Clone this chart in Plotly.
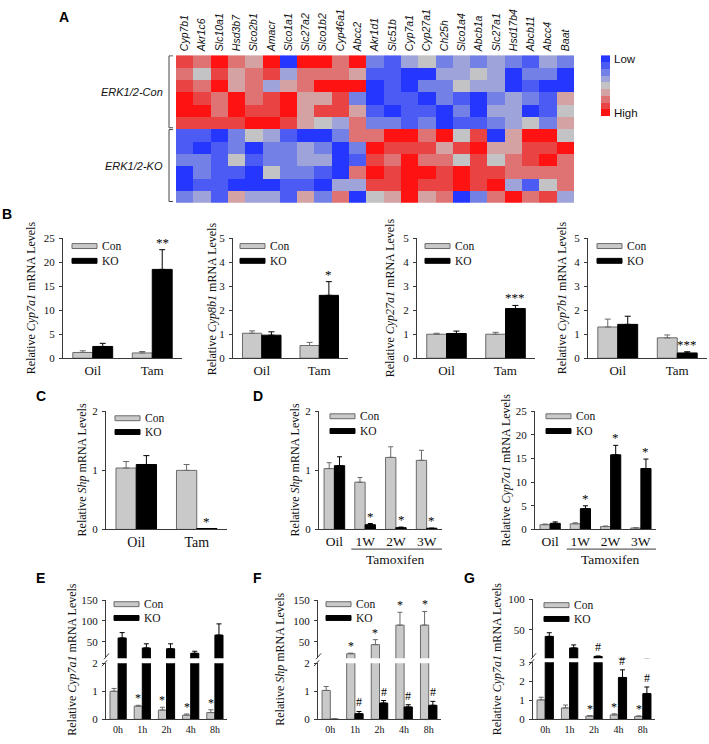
import plotly.graph_objects as go

W, H = 709, 744

# ---------------- data ----------------
GENES = ["Cyp7b1", "Akr1c6", "Slc10a1", "Hsd3b7", "Slco2b1", "Amacr", "Slco1a1",
         "Slc27a2", "Slco1b2", "Cyp46a1", "Abcc2", "Akr1d1", "Slc51b", "Cyp7a1",
         "Cyp27a1", "Ch25h", "Slco1a4", "Abcb1a", "Slc27a1", "Hsd17b4", "Abcb11",
         "Abcc4", "Baat"]
# expression level class: 1 = Low (blue) ... 5 = middle (grey) ... 9 = High (red)
HEAT_CON = [
    [8, 7, 9, 7, 6, 9, 1, 9, 9, 7, 9, 3, 2, 4, 5, 3, 4, 3, 4, 3, 2, 4, 3],
    [7, 5, 8, 6, 7, 8, 4, 7, 7, 7, 6, 2, 2, 1, 1, 4, 4, 5, 4, 1, 3, 3, 1],
    [8, 7, 9, 6, 7, 4, 6, 7, 9, 9, 9, 1, 2, 1, 3, 3, 5, 4, 4, 1, 2, 1, 1],
    [9, 8, 7, 9, 7, 8, 9, 6, 6, 8, 3, 1, 2, 2, 1, 3, 2, 1, 3, 4, 3, 2, 6],
    [9, 9, 7, 9, 8, 8, 9, 6, 8, 8, 6, 2, 1, 2, 2, 1, 3, 1, 4, 4, 1, 2, 5],
    [8, 8, 8, 8, 9, 9, 8, 6, 5, 4, 7, 3, 3, 2, 3, 1, 2, 2, 3, 4, 5, 3, 6],
]
HEAT_KO = [
    [2, 2, 1, 3, 5, 4, 2, 1, 1, 3, 7, 7, 9, 9, 7, 9, 5, 8, 1, 6, 9, 9, 5],
    [2, 1, 2, 3, 1, 3, 3, 4, 3, 1, 3, 9, 8, 8, 8, 6, 8, 9, 6, 6, 8, 8, 9],
    [3, 3, 2, 5, 2, 3, 3, 4, 4, 1, 2, 8, 7, 9, 7, 7, 5, 8, 5, 7, 8, 9, 7],
    [1, 3, 2, 2, 1, 5, 3, 3, 2, 1, 7, 9, 8, 9, 9, 8, 9, 8, 8, 7, 7, 7, 7],
    [1, 2, 2, 1, 1, 1, 2, 2, 1, 4, 4, 8, 8, 9, 8, 8, 9, 8, 9, 4, 2, 5, 7],
    [3, 4, 2, 6, 4, 4, 2, 6, 3, 7, 1, 5, 6, 9, 6, 7, 1, 3, 7, 9, 7, 8, 4],
]
HEAT_GROUPS = ["ERK1/2-Con", "ERK1/2-KO"]
LEVELS = [1, 2, 3, 4, 5, 6, 7, 8, 9]
LEVEL_COLORS = ["#2536ff", "#4b5bf4", "#7380e6", "#9ea4da", "#c3c3c6",
                "#d4a2a2", "#df7272", "#ea4343", "#ff1212"]
SCALE_LABELS = ["Low", "High"]

B_CATS = ["Oil", "Tam"]
CYP7A1_B_CON = [1.2, 1.1]
CYP7A1_B_CON_ERR = [0.35, 0.3]
CYP7A1_B_KO = [2.45, 18.5]
CYP7A1_B_KO_ERR = [0.65, 4.1]

CYP8B1_CON = [1.04, 0.53]
CYP8B1_CON_ERR = [0.1, 0.13]
CYP8B1_KO = [0.96, 2.62]
CYP8B1_KO_ERR = [0.14, 0.57]

CYP27A1_CON = [1.0, 1.0]
CYP27A1_CON_ERR = [0.04, 0.08]
CYP27A1_KO = [1.03, 2.07]
CYP27A1_KO_ERR = [0.1, 0.13]

CYP7B1_CON = [1.3, 0.85]
CYP7B1_CON_ERR = [0.33, 0.12]
CYP7B1_KO = [1.41, 0.22]
CYP7B1_KO_ERR = [0.34, 0.05]

SHP_C_CON = [1.04, 1.0]
SHP_C_CON_ERR = [0.11, 0.1]
SHP_C_KO = [1.1, 0.015]
SHP_C_KO_ERR = [0.15, None]

D_CATS = ["Oil", "1W", "2W", "3W"]
D_GROUP_LABEL = "Tamoxifen"
SHP_D_CON = [1.03, 0.8, 1.22, 1.17]
SHP_D_CON_ERR = [0.1, 0.08, 0.18, 0.17]
SHP_D_KO = [1.08, 0.08, 0.03, 0.02]
SHP_D_KO_ERR = [0.15, 0.02, 0.01, None]

CYP7A1_D_CON = [1.0, 1.2, 0.6, 0.3]
CYP7A1_D_CON_ERR = [0.15, 0.2, 0.12, 0.06]
CYP7A1_D_KO = [1.3, 4.4, 15.8, 12.9]
CYP7A1_D_KO_ERR = [0.3, 0.6, 2.0, 2.0]

T_CATS = ["0h", "1h", "2h", "4h", "8h"]
CYP7A1_E_CON = [1.0, 0.47, 0.33, 0.15, 0.24]
CYP7A1_E_CON_ERR = [0.1, 0.03, 0.1, 0.04, 0.1]
CYP7A1_E_KO = [59, 35, 33, 22, 66]
CYP7A1_E_KO_ERR = [13, 10, 12, 5, 27]

SHP_F_CON = [1.03, 21, 43, 90, 90]
SHP_F_CON_ERR = [0.14, 1.5, 12, 31, 33]
SHP_F_KO = [0.0, 0.2, 0.58, 0.44, 0.5]
SHP_F_KO_ERR = [None, 0.08, 0.09, 0.08, 0.14]

CYP7A1_G_CON = [1.02, 0.6, 0.17, 0.23, 0.15]
CYP7A1_G_CON_ERR = [0.14, 0.15, 0.03, 0.06, 0.03]
CYP7A1_G_KO = [39, 20, 6, 2.2, 1.35]
CYP7A1_G_KO_ERR = [6, 5, 0.8, 0.4, 0.35]

SERIES_NAMES = ["Con", "KO"]

# ---------------- helpers ----------------
def fx(px):
    return px / W


def fy(py):
    return 1 - py / H


SERIF = "Liberation Serif"
SANS = "Liberation Sans"
AX = "#3a3a3a"
TXT = "#111111"
CON_FILL = "#c9c9c9"
CON_EDGE = "#6a6a6a"
KO_FILL = "#000000"
BW = 0.335

fig = go.Figure()
layout = {}
shapes = []
annotations = []
_count = {"x": 0, "y": 0}


def new_axis(kind):
    _count[kind] += 1
    n = _count[kind]
    ref = kind if n == 1 else f"{kind}{n}"
    key = f"{kind}axis" if n == 1 else f"{kind}axis{n}"
    return ref, key


def err_cfg(errs, color, capw):
    return dict(type="data", symmetric=False, array=errs,
                arrayminus=[0 if e is not None else None for e in errs],
                color=color, thickness=1, width=capw, visible=True)


def add_bars(xr, yr, cats, con, con_err, ko, ko_err, capw):
    fig.add_trace(go.Bar(x=cats, y=con, xaxis=xr, yaxis=yr, width=BW, offset=-BW,
                         marker=dict(color=CON_FILL, line=dict(color=CON_EDGE, width=1)),
                         error_y=err_cfg(con_err, CON_EDGE, capw),
                         name=SERIES_NAMES[0], showlegend=False, hoverinfo="skip"))
    fig.add_trace(go.Bar(x=cats, y=ko, xaxis=xr, yaxis=yr, width=BW, offset=0,
                         marker=dict(color=KO_FILL, line=dict(color=KO_FILL, width=1)),
                         error_y=err_cfg(ko_err, KO_FILL, capw),
                         name=SERIES_NAMES[1], showlegend=False, hoverinfo="skip"))


def xcfg(n, x0, x1, anchor, size, standoff):
    return dict(domain=[fx(x0), fx(x1)], type="category", range=[-0.5, n - 0.5],
                showline=True, linecolor=AX, linewidth=1, ticks="", showgrid=False,
                zeroline=False, tickfont=dict(family=SERIF, size=size, color=TXT),
                anchor=anchor, fixedrange=True, ticklabelstandoff=standoff)


def ycfg(y0, y1, rng, tickvals, anchor, size=11):
    return dict(domain=[fy(y1), fy(y0)], range=rng, tickvals=tickvals,
                showline=True, linecolor=AX, linewidth=1, ticks="outside", ticklen=3,
                tickwidth=1, tickcolor=AX, showgrid=False, zeroline=False,
                tickfont=dict(family=SERIF, size=size, color=TXT), anchor=anchor,
                fixedrange=True, ticklabelstandoff=2)


def add_legend(ax_x, ax_top, dx, dy1, dy2, sw=25, sh=5, fs=11.5):
    for i, (name, fill, edge) in enumerate(zip(SERIES_NAMES, [CON_FILL, KO_FILL],
                                               [CON_EDGE, KO_FILL])):
        cy = ax_top + (dy1 if i == 0 else dy2)
        shapes.append(dict(type="rect", xref="paper", yref="paper",
                           x0=fx(ax_x + dx), x1=fx(ax_x + dx + sw),
                           y0=fy(cy + sh / 2), y1=fy(cy - sh / 2),
                           fillcolor=fill, line=dict(color=edge, width=1)))
        annotations.append(dict(text=name, x=fx(ax_x + dx + sw + 3), y=fy(cy),
                                xref="paper", yref="paper", xanchor="left",
                                yanchor="middle", showarrow=False,
                                font=dict(family=SERIF, size=fs, color=TXT)))


def ytitle(text, tx, cy, size=12):
    annotations.append(dict(text=text, x=fx(tx), y=fy(cy), xref="paper", yref="paper",
                            textangle=-90, showarrow=False, xanchor="center",
                            yanchor="middle", font=dict(family=SERIF, size=size, color=TXT)))


def add_mark(xr, yr, idx, series, top, txt, size):
    side = -1 if series == 0 else 1
    annotations.append(dict(text=txt, x=idx + side * BW / 2, y=top, xref=xr, yref=yr,
                            showarrow=False, xanchor="center", yanchor="bottom",
                            yshift=-2 if txt.startswith("*") else 0,
                            font=dict(family=SERIF, size=size, color="#000000")))


def letter(txt, cx, cy):
    annotations.append(dict(text=f"<b>{txt}</b>", x=fx(cx), y=fy(cy), xref="paper",
                            yref="paper", showarrow=False, xanchor="center",
                            yanchor="middle", font=dict(family=SANS, size=14, color="#000")))


def bar_panel(cats, con, con_err, ko, ko_err, x0, x1, y0, y1, rng, ticks, title, tx,
              cat_size, leg, marks, capw=3, mark_size=13, standoff=0):
    xr, xk = new_axis("x")
    yr, yk = new_axis("y")
    add_bars(xr, yr, cats, con, con_err, ko, ko_err, capw)
    layout[xk] = xcfg(len(cats), x0, x1, yr, cat_size, standoff)
    layout[yk] = ycfg(y0, y1, rng, ticks, xr)
    add_legend(x0, y0, *leg)
    ytitle(title, tx, (y0 + y1) / 2)
    for series, idx, txt in marks:
        vals, errs = (con, con_err) if series == 0 else (ko, ko_err)
        add_mark(xr, yr, idx, series, vals[idx] + (errs[idx] or 0), txt, mark_size)
    return xr, yr


def broken_panel(cats, con, con_err, ko, ko_err, x0, x1, up, lo, up_rng, up_ticks,
                 lo_rng, lo_ticks, title, tx, leg, marks):
    xr, xk = new_axis("x")
    ylo, ylok = new_axis("y")
    yup, yupk = new_axis("y")
    add_bars(xr, ylo, cats, con, con_err, ko, ko_err, 2.5)
    add_bars(xr, yup, cats, con, con_err, ko, ko_err, 2.5)
    layout[xk] = xcfg(len(cats), x0, x1, ylo, 10, 1)
    layout[ylok] = ycfg(lo[0], lo[1], lo_rng, lo_ticks, xr)
    layout[yupk] = ycfg(up[0], up[1], up_rng, up_ticks, xr)
    add_legend(x0, up[0], *leg)
    ytitle(title, tx, (up[0] + lo[1]) / 2)
    # axis break marks
    for (ax0, ay0, ax1, ay1) in [(-2, up[1] + 1, 3, up[1] - 5), (-4, lo[0] + 3, 1, lo[0] - 3)]:
        shapes.append(dict(type="line", xref="paper", yref="paper",
                           x0=fx(x0 + ax0), y0=fy(ay0), x1=fx(x0 + ax1), y1=fy(ay1),
                           line=dict(color=AX, width=1)))
    for series, idx, txt in marks:
        vals, errs = (con, con_err) if series == 0 else (ko, ko_err)
        top = vals[idx] + (errs[idx] or 0)
        yr = ylo if top <= lo_rng[1] else yup
        add_mark(xr, yr, idx, series, top, txt, 12)


# ---------------- A: heatmap ----------------
hx, hxk = new_axis("x")
hy, hyk = new_axis("y")
rows = HEAT_CON + HEAT_KO
nrows = len(rows)
zmin, zmax = LEVELS[0] - 0.5, LEVELS[-1] + 0.5
nc = len(LEVEL_COLORS)
cs = []
for i, c in enumerate(LEVEL_COLORS):
    cs.append([i / nc, c])
    cs.append([(i + 1) / nc, c])
fig.add_trace(go.Heatmap(z=rows, x=GENES, y=list(range(nrows)), xaxis=hx, yaxis=hy,
                         colorscale=cs, zmin=zmin, zmax=zmax, showscale=False,
                         hoverinfo="skip"))
layout[hxk] = dict(domain=[fx(176), fx(574)], side="top", tickangle=-90, showline=False,
                   ticks="", showgrid=False, zeroline=False, type="category",
                   tickfont=dict(family=SANS, size=10.5, style="italic", color=TXT),
                   anchor=hy, fixedrange=True, ticklabelstandoff=3)
layout[hyk] = dict(domain=[fy(200), fy(50)], range=[nrows - 0.5, -0.5],
                   showticklabels=False, showgrid=False, zeroline=False, showline=False,
                   ticks="", anchor=hx, fixedrange=True)

# scale legend
cx, cxk = new_axis("x")
cy, cyk = new_axis("y")
fig.add_trace(go.Heatmap(z=[[v] for v in LEVELS], xaxis=cx, yaxis=cy, colorscale=cs,
                         zmin=zmin, zmax=zmax, showscale=False, hoverinfo="skip"))
layout[cxk] = dict(domain=[fx(601), fx(610)], visible=False, anchor=cy, fixedrange=True)
layout[cyk] = dict(domain=[fy(112), fy(50)], visible=False, range=[len(LEVELS) - 0.5, -0.5],
                   anchor=cx, fixedrange=True)
annotations.append(dict(text=SCALE_LABELS[0], x=fx(612), y=0, xref="paper", yref=cy,
                        xanchor="left", yanchor="middle", showarrow=False,
                        font=dict(family=SANS, size=11.5, color=TXT)))
annotations.append(dict(text=SCALE_LABELS[1], x=fx(612), y=len(LEVELS) - 1, xref="paper",
                        yref=cy, xanchor="left", yanchor="middle", showarrow=False,
                        font=dict(family=SANS, size=11.5, color=TXT)))

# group labels and brackets
groups = [(HEAT_GROUPS[0], 0, len(HEAT_CON) - 1), (HEAT_GROUPS[1], len(HEAT_CON), nrows - 1)]
for name, r0, r1 in groups:
    annotations.append(dict(text=f"<i>{name}</i>", x=fx(165), y=(r0 + r1) / 2, xref="paper",
                            yref=hy, xanchor="right", yanchor="middle", showarrow=False,
                            font=dict(family=SANS, size=11, color=TXT)))
    ya, yb = r0 - 0.45, r1 + 0.4
    shapes.append(dict(type="line", xref="paper", yref=hy, x0=fx(169), x1=fx(169),
                       y0=ya, y1=yb, line=dict(color="#444", width=1)))
    for yy in (ya, yb):
        shapes.append(dict(type="line", xref="paper", yref=hy, x0=fx(169), x1=fx(173),
                           y0=yy, y1=yy, line=dict(color="#444", width=1)))

letter("A", 64, 11)

# ---------------- B ----------------
letter("B", 7, 211)
bar_panel(B_CATS, CYP7A1_B_CON, CYP7A1_B_CON_ERR, CYP7A1_B_KO, CYP7A1_B_KO_ERR,
          63, 182, 236, 358, [0, 25], [0, 5, 10, 15, 20, 25],
          "Relative <i>Cyp7a1</i> mRNA Levels", 31, 13, (9, 8, 23), [(1, 1, "**")])
bar_panel(B_CATS, CYP8B1_CON, CYP8B1_CON_ERR, CYP8B1_KO, CYP8B1_KO_ERR,
          233, 348, 236, 358, [0, 5], [0, 1, 2, 3, 4, 5],
          "Relative <i>Cyp8b1</i> mRNA Levels", 212, 13, (7, 8, 23), [(1, 1, "*")])
bar_panel(B_CATS, CYP27A1_CON, CYP27A1_CON_ERR, CYP27A1_KO, CYP27A1_KO_ERR,
          417, 535, 236, 358, [0, 5], [0, 1, 2, 3, 4, 5],
          "Relative <i>Cyp27a1</i> mRNA Levels", 390, 13, (8, 8, 23), [(1, 1, "***")])
bar_panel(B_CATS, CYP7B1_CON, CYP7B1_CON_ERR, CYP7B1_KO, CYP7B1_KO_ERR,
          588, 707, 236, 358, [0, 5], [0, 1, 2, 3, 4, 5],
          "Relative <i>Cyp7b1</i> mRNA Levels", 562, 13, (9, 8, 23), [(1, 1, "***")])

# ---------------- C ----------------
letter("C", 41, 396)
bar_panel(B_CATS, SHP_C_CON, SHP_C_CON_ERR, SHP_C_KO, SHP_C_KO_ERR,
          106, 227, 412, 532, [0, 2], [0, 1, 2],
          "Relative <i>Shp</i> mRNA Levels", 82, 14, (9, 7, 21), [(1, 1, "*")])

# ---------------- D ----------------
letter("D", 258, 396)
for (con, con_err, ko, ko_err, x0, x1, rng, ticks, title, tx) in [
        (SHP_D_CON, SHP_D_CON_ERR, SHP_D_KO, SHP_D_KO_ERR, 319, 442, [0, 2], [0, 1, 2],
         "Relative <i>Shp</i> mRNA Levels", 295),
        (CYP7A1_D_CON, CYP7A1_D_CON_ERR, CYP7A1_D_KO, CYP7A1_D_KO_ERR, 535, 656, [0, 25],
         [0, 5, 10, 15, 20, 25], "Relative <i>Cyp7a1</i> mRNA Levels", 506)]:
    xr, yr = bar_panel(D_CATS, con, con_err, ko, ko_err, x0, x1, 412, 532, rng, ticks,
                       title, tx, 13.5, (11, 5, 20), [(1, i, "*") for i in (1, 2, 3)],
                       capw=2.5, mark_size=13, standoff=-1)
    shapes.append(dict(type="line", xref=xr, yref="paper", x0=0.55, x1=len(D_CATS) - 0.5,
                       y0=fy(552), y1=fy(552), line=dict(color=AX, width=1)))
    annotations.append(dict(text=D_GROUP_LABEL, x=(1 + len(D_CATS) - 1) / 2, y=fy(563),
                            xref=xr, yref="paper", showarrow=False, xanchor="center",
                            yanchor="middle", font=dict(family=SERIF, size=13.5, color=TXT)))

# ---------------- E / F / G ----------------
letter("E", 40, 581)
broken_panel(T_CATS, CYP7A1_E_CON, CYP7A1_E_CON_ERR, CYP7A1_E_KO, CYP7A1_E_KO_ERR,
             106, 227, (604, 663), (668, 725), [10, 150], [50, 100, 150], [0, 2], [0, 1, 2],
             "Relative <i>Cyp7a1</i> mRNA Levels", 72, (8, 4, 18),
             [(0, i, "*") for i in (1, 2, 3, 4)])
letter("F", 257, 581)
broken_panel(T_CATS, SHP_F_CON, SHP_F_CON_ERR, SHP_F_KO, SHP_F_KO_ERR,
             318, 441, (604, 663), (668, 725), [10, 150], [50, 100, 150], [0, 2], [0, 1, 2],
             "Relative <i>Shp</i> mRNA Levels", 280, (8, 4, 18),
             [(0, i, "*") for i in (1, 2, 3, 4)] + [(1, i, "#") for i in (1, 2, 3, 4)])
letter("G", 469, 581)
broken_panel(T_CATS, CYP7A1_G_CON, CYP7A1_G_CON_ERR, CYP7A1_G_KO, CYP7A1_G_KO_ERR,
             533, 655, (603, 663), (667, 725), [3, 100], [50, 100], [0, 3], [0, 1, 2, 3],
             "Relative <i>Cyp7a1</i> mRNA Levels", 497, (11, 6, 20),
             [(0, i, "*") for i in (2, 3, 4)] + [(1, i, "#") for i in (2, 3, 4)])

fig.update_layout(width=W, height=H, margin=dict(l=0, r=0, t=0, b=0),
                  paper_bgcolor="white", plot_bgcolor="rgba(0,0,0,0)",
                  barmode="overlay", showlegend=False, shapes=shapes,
                  annotations=annotations, font=dict(family=SERIF, color=TXT), **layout)
fig.write_html("out.html", config={"displayModeBar": False},
               post_script="document.body.style.margin='0';document.body.style.padding='0';"
                           "document.body.style.overflow='hidden';")
